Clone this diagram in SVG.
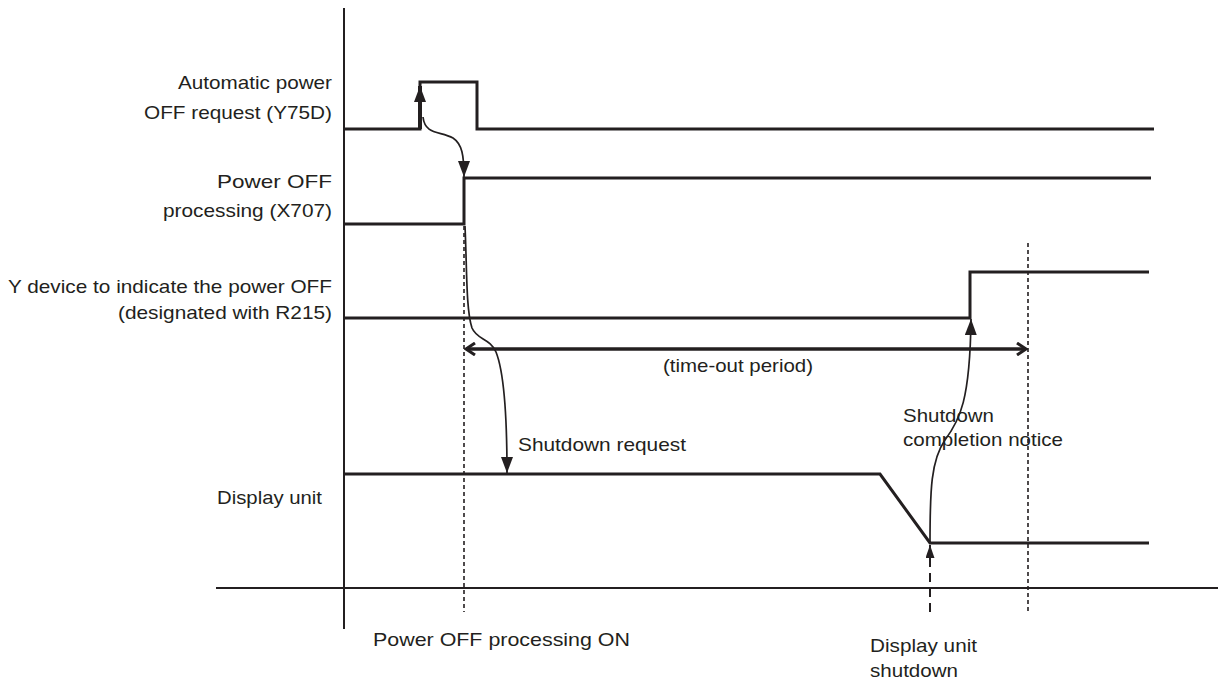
<svg xmlns="http://www.w3.org/2000/svg" width="1232" height="681" viewBox="0 0 1232 681">
<defs>
<style>
text{font-family:"Liberation Sans",Arial,sans-serif;font-size:19px;fill:#231f20}
.sig{fill:none;stroke:#231f20;stroke-width:3;stroke-linejoin:miter}
.axis{fill:none;stroke:#231f20;stroke-width:2}
.dash{fill:none;stroke:#231f20;stroke-width:1.6;stroke-dasharray:4 3}
.curve{fill:none;stroke:#231f20;stroke-width:1.7}
</style>
<marker id="ah" markerUnits="userSpaceOnUse" viewBox="0 0 16 12" refX="16" refY="6" markerWidth="16" markerHeight="12" orient="auto">
<path d="M0,0 L16,6 L0,12 z" fill="#231f20"/>
</marker>
<marker id="ahs" markerUnits="userSpaceOnUse" viewBox="0 0 13 9" refX="13" refY="4.5" markerWidth="13" markerHeight="9" orient="auto">
<path d="M0,0 L13,4.5 L0,9 z" fill="#231f20"/>
</marker>
<marker id="chev" markerUnits="userSpaceOnUse" viewBox="0 0 12 14" refX="10" refY="7" markerWidth="12" markerHeight="14" orient="auto-start-reverse">
<path d="M1,1 L10,7 L1,13" fill="none" stroke="#231f20" stroke-width="3"/>
</marker>
</defs>
<rect width="1232" height="681" fill="#ffffff"/>

<g id="axes">
<line class="axis" x1="344" y1="8" x2="344" y2="629"/>
<line class="axis" x1="216" y1="588" x2="1218" y2="588"/>
</g>

<g id="sig-y75d">
<text x="332" y="89" text-anchor="end" textLength="154" lengthAdjust="spacingAndGlyphs">Automatic power</text>
<text x="332" y="119" text-anchor="end" textLength="188" lengthAdjust="spacingAndGlyphs">OFF request (Y75D)</text>
<polyline class="sig" points="344,129 420,129 420,82 477,82 477,129 1154,129"/>
</g>

<g id="sig-x707">
<text x="332" y="188" text-anchor="end" textLength="115" lengthAdjust="spacingAndGlyphs">Power OFF</text>
<text x="332" y="217" text-anchor="end" textLength="169" lengthAdjust="spacingAndGlyphs">processing (X707)</text>
<polyline class="sig" points="344,224 464,224 464,178 1151,178"/>
</g>

<g id="sig-r215">
<text x="332" y="293" text-anchor="end" textLength="324" lengthAdjust="spacingAndGlyphs">Y device to indicate the power OFF</text>
<text x="332" y="319" text-anchor="end" textLength="214" lengthAdjust="spacingAndGlyphs">(designated with R215)</text>
<polyline class="sig" points="344,318 970,318 970,272 1149,272"/>
</g>

<g id="sig-display">
<text x="217" y="504" textLength="105" lengthAdjust="spacingAndGlyphs">Display unit</text>
<polyline class="sig" points="344,474 880,474 930,543 1149,543"/>
</g>

<g id="marker-power-off-on">
<line class="dash" x1="464" y1="226" x2="464" y2="612"/>
<text x="373" y="646" textLength="257" lengthAdjust="spacingAndGlyphs">Power OFF processing ON</text>
</g>

<g id="marker-timeout-end">
<line class="dash" x1="1028" y1="243" x2="1028" y2="612"/>
</g>

<g id="marker-display-shutdown">
<text x="870" y="652" textLength="107" lengthAdjust="spacingAndGlyphs">Display unit</text>
<text x="870" y="677" textLength="88" lengthAdjust="spacingAndGlyphs">shutdown</text>
</g>

<g id="connectors">
<line x1="420" y1="129" x2="420" y2="86" stroke="#231f20" stroke-width="4" marker-end="url(#ah)"/>
<path class="curve" d="M423,117 C425,135 440,131 453,138 C462,144 464,155 464,177" marker-end="url(#ah)"/>
<path class="curve" d="M465,226 C467,270 466,310 472,328 C477,340 490,338 496,352 C504,372 507,420 507,473" marker-end="url(#ah)"/>
<path class="curve" d="M930,543 C930,490 931,460 945,440 C960,420 970,400 971,319" marker-end="url(#ah)"/>
<line x1="930" y1="612" x2="930" y2="545" stroke="#231f20" stroke-width="2" stroke-dasharray="9 6" marker-end="url(#ahs)"/>
<line x1="466" y1="349" x2="1026" y2="349" stroke="#231f20" stroke-width="3.5" marker-start="url(#chev)" marker-end="url(#chev)"/>
<text x="663" y="372" textLength="150" lengthAdjust="spacingAndGlyphs">(time-out period)</text>
<text x="518" y="451" textLength="168" lengthAdjust="spacingAndGlyphs">Shutdown request</text>
<text x="903" y="422" textLength="91" lengthAdjust="spacingAndGlyphs">Shutdown</text>
<text x="903" y="446" textLength="160" lengthAdjust="spacingAndGlyphs">completion notice</text>
</g>
</svg>
